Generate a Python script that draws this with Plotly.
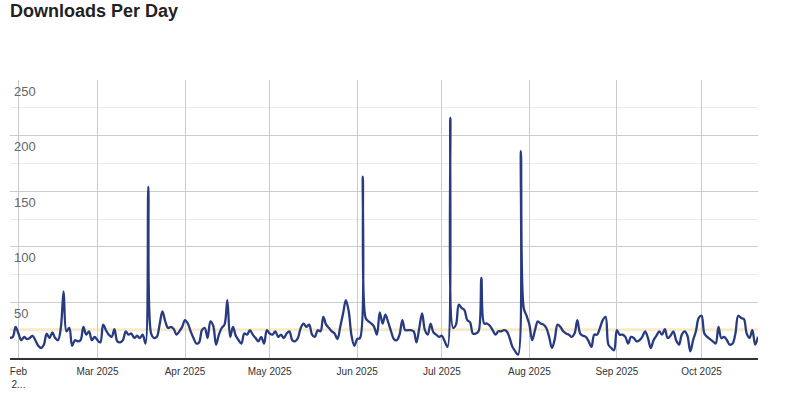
import plotly.graph_objects as go
import pandas as pd

title_text = "Downloads Per Day"
start_date = "2025-01-29"
downloads = [
    18, 19, 28, 22, 16, 19, 17, 18, 20, 16,
    11, 9, 12, 22, 18, 23, 18, 16, 27, 60,
    24, 27, 11, 16, 15, 16, 28, 21, 24, 16,
    19, 16, 14, 30, 25, 21, 19, 26, 15, 14,
    16, 24, 21, 22, 18, 20, 18, 21, 13, 154,
    22, 18, 19, 30, 42, 33, 27, 28, 26, 21,
    24, 28, 34, 31, 24, 18, 13, 14, 25, 27,
    18, 33, 29, 12, 21, 27, 30, 52, 19, 28,
    20, 16, 13, 22, 21, 25, 21, 18, 15, 19,
    13, 25, 22, 21, 24, 19, 21, 18, 22, 24,
    16, 15, 18, 27, 31, 28, 30, 21, 19, 25,
    24, 37, 30, 27, 24, 22, 17, 28, 40, 52,
    42, 20, 11, 17, 18, 163, 36, 33, 31, 28,
    21, 41, 31, 39, 32, 24, 17, 16, 21, 34,
    25, 25, 25, 24, 14, 27, 40, 25, 21, 31,
    23, 21, 19, 20, 15, 10, 216, 27, 30, 48,
    45, 43, 34, 32, 22, 22, 24, 72, 31, 31,
    29, 25, 21, 24, 24, 25, 24, 18, 10, 6,
    3, 186, 45, 38, 30, 16, 25, 33, 31, 30,
    27, 19, 9, 17, 30, 28, 24, 22, 21, 19,
    22, 34, 22, 20, 19, 15, 10, 21, 21, 27,
    34, 37, 12, 9, 7, 25, 21, 21, 19, 13,
    19, 18, 15, 16, 19, 24, 18, 9, 16, 20,
    24, 21, 26, 18, 20, 24, 16, 12, 21, 24,
    20, 6, 16, 24, 36, 38, 22, 19, 17, 15,
    13, 28, 18, 19, 16, 12, 13, 22, 38, 36,
    35, 22, 18, 25, 12, 19,
]
average_value = 25.5

month_ticks = ["2025-02-01", "2025-03-01", "2025-04-01", "2025-05-01", "2025-06-01",
               "2025-07-01", "2025-08-01", "2025-09-01", "2025-10-01"]
month_labels = ["Feb<br>2...", "Mar 2025", "Apr 2025", "May 2025", "Jun 2025",
                "Jul 2025", "Aug 2025", "Sep 2025", "Oct 2025"]
y_tick_values = [50, 100, 150, 200, 250]
y_tick_labels = ["50", "100", "150", "200", "250"]
y_minor_values = [25, 75, 125, 175, 225]

dates = pd.date_range(start_date, periods=len(downloads), freq="D")

fig = go.Figure()
fig.add_trace(go.Scatter(
    x=dates, y=downloads, mode="lines",
    line=dict(color="#283a80", width=2.3, shape="spline", smoothing=1.0),
    hoverinfo="x+y", showlegend=False,
))

fig.add_shape(type="line", xref="paper", x0=0, x1=1, yref="y",
              y0=average_value, y1=average_value,
              line=dict(color="rgba(252,220,140,0.6)", width=3), layer="between")

for v, t in zip(y_tick_values, y_tick_labels):
    fig.add_annotation(x=0, xref="paper", y=v, yref="y", text=t, showarrow=False,
                       xanchor="left", yanchor="middle", xshift=2, yshift=-11,
                       font=dict(size=13, color="#666666",
                                 family="Liberation Sans, Arial, sans-serif"))

fig.update_layout(
    width=800, height=395,
    margin=dict(l=10, r=42, t=80, b=37, autoexpand=False),
    paper_bgcolor="white", plot_bgcolor="white",
    font=dict(family="Liberation Sans, Arial, sans-serif"),
    title=dict(text="<b>" + title_text + "</b>", xref="container", yref="container",
               x=0.0125, xanchor="left", y=0.988, yanchor="top",
               font=dict(size=18, color="#222222", family="Liberation Sans, Arial, sans-serif"),
               pad=dict(t=0, l=0)),
    xaxis=dict(
        range=[dates[0], dates[-1]],
        tickvals=month_ticks, ticktext=month_labels,
        showgrid=True, gridcolor="#cccccc", gridwidth=1,
        showline=True, linecolor="#333333", linewidth=1.5,
        ticks="", tickfont=dict(size=10, color="#333333"),
        ticklabelstandoff=3, automargin=False,
        zeroline=False, fixedrange=True,
    ),
    yaxis=dict(
        range=[0, 250],
        tickvals=y_tick_values, showticklabels=False,
        showgrid=True, gridcolor="#cccccc", gridwidth=1,
        minor=dict(tickvals=y_minor_values, showgrid=True, gridcolor="#ebebeb", gridwidth=1),
        ticks="", showline=False, zeroline=False, fixedrange=True, automargin=False,
    ),
)

fig.write_html("out.html", config={"displayModeBar": False},
               post_script="document.body.style.margin='0';")
